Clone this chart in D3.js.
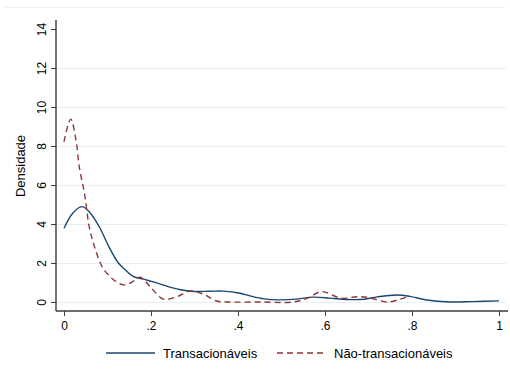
<!DOCTYPE html>
<html>
<head>
<meta charset="utf-8">
<script src="https://cdn.jsdelivr.net/npm/d3@7"></script>
<style>
html,body{margin:0;padding:0;background:#fff;}
text{font-family:"Liberation Sans", Arial, sans-serif;fill:#000;}
</style>
</head>
<body>
<svg id="chart" width="510" height="374"></svg>
<script>
// Data
const xTicks = [0, 0.2, 0.4, 0.6, 0.8, 1];
const xTickLabels = ["0", ".2", ".4", ".6", ".8", "1"];
const yTicks = [0, 2, 4, 6, 8, 10, 12, 14];
const seriesNames = ["Transacionáveis", "Não-transacionáveis"];

const transX = [0, 0.02, 0.041, 0.058, 0.081, 0.104, 0.125, 0.141, 0.16, 0.19, 0.22, 0.265, 0.3, 0.335, 0.366, 0.405, 0.43, 0.46, 0.49, 0.535, 0.573, 0.611, 0.65, 0.69, 0.72, 0.765, 0.795, 0.834, 0.887, 0.94, 1.0];
const transY = [3.78, 4.55, 4.89, 4.63, 3.86, 2.8, 2.0, 1.65, 1.3, 1.13, 0.93, 0.64, 0.54, 0.55, 0.56, 0.45, 0.3, 0.16, 0.11, 0.15, 0.25, 0.2, 0.13, 0.14, 0.26, 0.36, 0.29, 0.1, 0.0, 0.02, 0.06];

const naoX = [0, 0.0154, 0.0276, 0.035, 0.047, 0.058, 0.07, 0.089, 0.106, 0.12, 0.137, 0.155, 0.175, 0.198, 0.228, 0.259, 0.29, 0.32, 0.351, 0.38, 0.45, 0.527, 0.56, 0.592, 0.638, 0.673, 0.703, 0.742, 0.772, 0.795];
const naoY = [8.22, 9.38, 8.3, 6.94, 5.57, 3.86, 2.84, 1.75, 1.3, 1.05, 0.88, 1.0, 1.27, 0.79, 0.15, 0.27, 0.56, 0.41, 0.05, 0.0, 0.0, 0.0, 0.2, 0.53, 0.19, 0.27, 0.22, 0.0, 0.14, 0.3];

const colors = ["#1a476f", "#90353b"];

const svg = d3.select("#chart");
const pLeft = 56, pRight = 506, pTop = 20, pBottom = 311;

const x = d3.scaleLinear().domain([0, 1]).range([64, 499]);
const y = d3.scaleLinear().domain([0, 14]).range([302, 29]);

// faint outer border line
svg.append("line").attr("x1", 5).attr("x2", 505).attr("y1", 7.5).attr("y2", 7.5)
  .attr("stroke", "#f0f0f0").attr("stroke-width", 1);

// gridlines
svg.append("g").selectAll("line").data(yTicks.filter(d => d < 14)).join("line")
  .attr("x1", pLeft).attr("x2", pRight)
  .attr("y1", d => Math.round(y(d)) + 0.5).attr("y2", d => Math.round(y(d)) + 0.5)
  .attr("stroke", "#e6eef0").attr("stroke-width", 1.2);

// curves
const line = d3.line().curve(d3.curveCatmullRom.alpha(0.5)).x(d => x(d[0])).y(d => y(d[1]));
svg.append("path").datum(transX.map((v, i) => [v, transY[i]]))
  .attr("d", line).attr("fill", "none").attr("stroke", colors[0]).attr("stroke-width", 1.4);
svg.append("path").datum(naoX.map((v, i) => [v, naoY[i]]))
  .attr("d", line).attr("fill", "none").attr("stroke", colors[1]).attr("stroke-width", 1.4)
  .attr("stroke-dasharray", "6,4");

// y axis
const yAxis = d3.axisLeft(y).tickValues(yTicks).tickSize(5).tickPadding(4).tickFormat(d3.format("d"));
const gy = svg.append("g").attr("transform", `translate(${pLeft},0)`).call(yAxis);
gy.select(".domain").attr("d", `M0,${pTop}V${pBottom}`).attr("stroke", "#3c3c3c").attr("stroke-width", 1.4);
gy.selectAll(".tick line").attr("stroke", "#3c3c3c");
gy.selectAll(".tick text")
  .attr("transform", "rotate(-90)")
  .attr("x", 0).attr("y", -10)
  .attr("text-anchor", "middle")
  .attr("dy", "0")
  .style("font-size", "12px")
  .style("font-family", '"Liberation Sans", Arial, sans-serif');

// x axis
const xAxis = d3.axisBottom(x).tickValues(xTicks).tickSize(5).tickPadding(5)
  .tickFormat((d, i) => xTickLabels[i]);
const gx = svg.append("g").attr("transform", `translate(0,${pBottom})`).call(xAxis);
gx.select(".domain").attr("d", `M${pLeft},0H${pRight + 2}`).attr("stroke", "#3c3c3c").attr("stroke-width", 1.4);
gx.selectAll(".tick line").attr("stroke", "#3c3c3c");
gx.selectAll(".tick text").style("font-size", "12px")
  .style("font-family", '"Liberation Sans", Arial, sans-serif');

// y title
svg.append("text").attr("transform", "translate(25,166) rotate(-90)")
  .attr("text-anchor", "middle").style("font-size", "13px").text("Densidade");

// legend
const leg = svg.append("g");
leg.append("line").attr("x1", 106).attr("x2", 155).attr("y1", 353).attr("y2", 353)
  .attr("stroke", colors[0]).attr("stroke-width", 1.4);
leg.append("text").attr("x", 163).attr("y", 357.5).style("font-size", "13px").text(seriesNames[0]);
leg.append("line").attr("x1", 277).attr("x2", 327).attr("y1", 353).attr("y2", 353)
  .attr("stroke", colors[1]).attr("stroke-width", 1.4).attr("stroke-dasharray", "6,4");
leg.append("text").attr("x", 334).attr("y", 357.5).style("font-size", "13px").text(seriesNames[1]);
</script>
</body>
</html>
